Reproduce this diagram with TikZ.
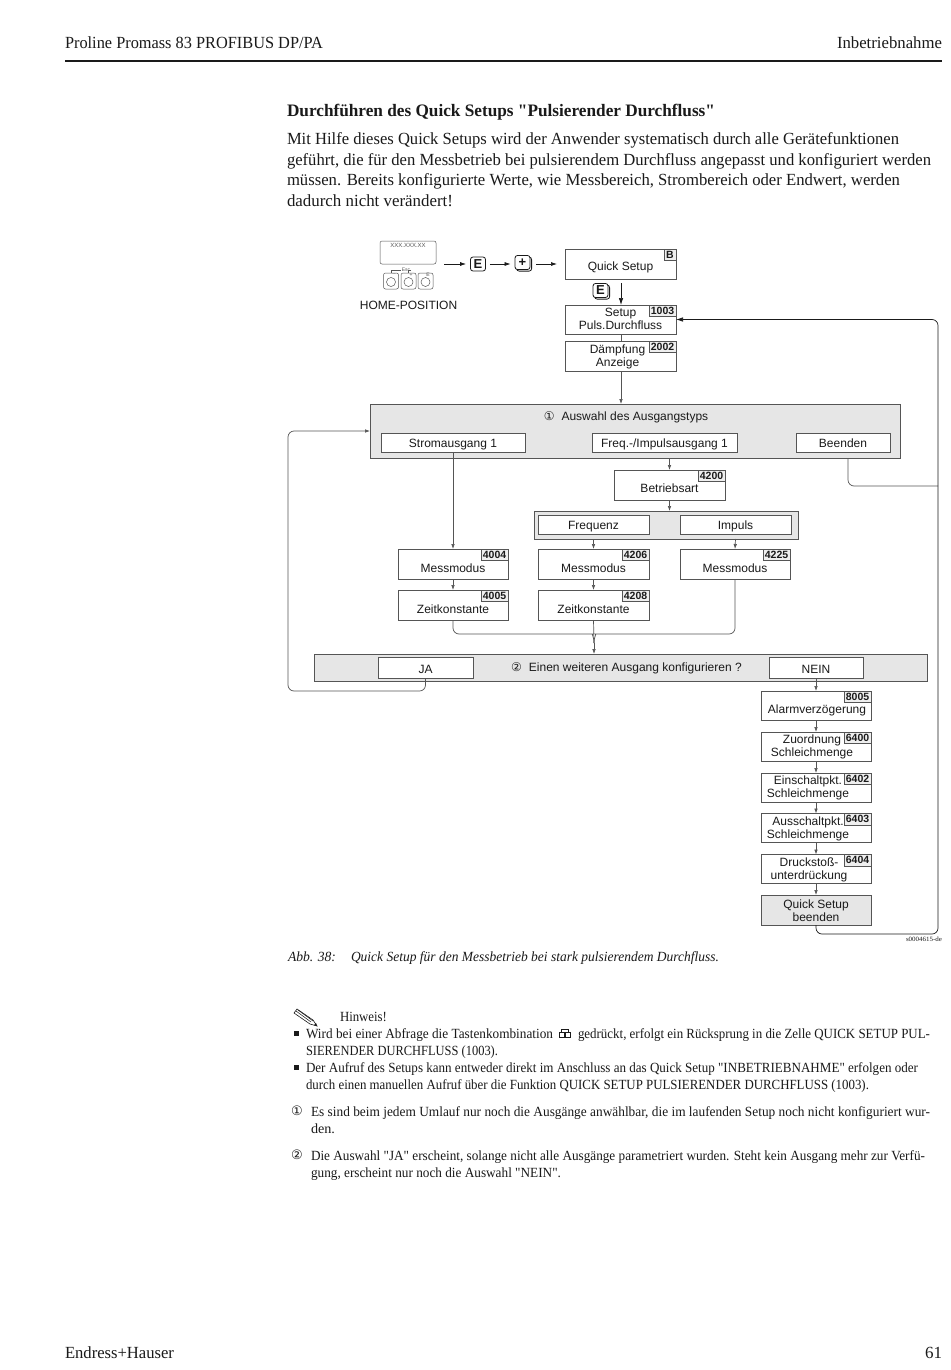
\documentclass[tikz,border=0pt]{standalone}
\usepackage{fontspec}
\usepackage{graphicx}
\setmainfont[Ligatures=TeXOff]{Liberation Serif}
\newfontfamily\diaf{Liberation Sans}
\newfontfamily\symf{DejaVu Sans}
\usetikzlibrary{arrows.meta,shadows}
\definecolor{ln}{HTML}{555555}
\definecolor{panelgray}{HTML}{E6E6E6}
\definecolor{taggray}{HTML}{EFEFEF}
\definecolor{ink}{HTML}{1A1A1A}
\newcommand{\bodyf}{\fontsize{17}{18}\selectfont}
\newcommand{\notef}{\fontsize{14}{15}\selectfont}
\newcommand{\bt}[3]{\raisebox{\dimexpr-#2pt-5pt\relax}[0pt][0pt]{\makebox[0pt][c]{\hspace*{\dimexpr 2\dimexpr#1pt\relax\relax}\setlength{\tabcolsep}{0pt}\renewcommand{\arraystretch}{0.96}\begin{tabular}{c}#3\end{tabular}}}}
\newcommand{\tline}[6]{\node[txt,font=#5,anchor=base west,yshift=-1pt] (#1) at (#2,#3) {\resizebox{#4pt}{\height}{#6}};}
\newcommand{\bx}[7][]{\node[box,#1,minimum width=#4pt,minimum height=#5pt] (#2) at (#3) {\bt#6{#7}};}
\newcommand{\tagb}[3]{\node[tagbox,anchor=north east] (#1) at (#2.north east) {#3};}
\tikzset{
  x=1pt,y=-1pt,
  txt/.style={inner sep=0pt,outer sep=0pt,text=ink},
  box/.style={draw=ln,line width=0.7pt,fill=white,inner sep=0pt,outer sep=0pt,font=\diaf\fontsize{12}{13.5}\selectfont,text=ink},
  panel/.style={draw=ln,line width=0.7pt,fill=panelgray,inner sep=0pt,outer sep=0pt},
  tagbox/.style={draw=ln,line width=0.6pt,fill=taggray,inner sep=0pt,outer sep=0pt,minimum width=27pt,minimum height=11.5pt,font=\diaf\bfseries\fontsize{10.5}{11}\selectfont,text=ink},
  dlabel/.style={inner sep=0pt,outer sep=0pt,font=\diaf\fontsize{12}{13.5}\selectfont,text=ink},
  conn/.style={draw=ln,line width=0.7pt,rounded corners=6pt},
  arr/.style={conn,-{Latex[length=5pt,width=3.6pt]}},
  keyarr/.style={draw=ink,line width=0.7pt,-{Latex[length=6pt,width=4pt]}},
  bigarr/.style={draw=ink,line width=0.7pt,-{Latex[length=7pt,width=4.5pt]}},
  keyb/.style={draw=ink,line width=0.8pt,rounded corners=2.5pt,fill=white,inner sep=0pt,minimum width=15pt,minimum height=14pt,font=\diaf\bfseries\fontsize{13}{13}\selectfont,text=ink},
  keys/.style={keyb,copy shadow={shadow xshift=1.6pt,shadow yshift=-1.6pt,draw=ink,fill=white,opacity=1}},
  hw/.style={draw=ln,line width=0.5pt,rounded corners=2pt,fill=white,inner sep=0pt,outer sep=0pt},
  tiny/.style={inner sep=0pt,outer sep=0pt,font=\diaf\fontsize{5}{5}\selectfont,text=ln},
}
\begin{document}
\begin{tikzpicture}
\useasboundingbox (0,0) rectangle (950,1370);
\fill[white] (0,0) rectangle (950,1370);

% page header and footer
\tline{hl}{65}{47.5}{258}{\bodyf}{Proline Promass 83 PROFIBUS DP/PA}
\tline{hr}{837}{47.5}{105}{\bodyf}{Inbetriebnahme}
\draw[ink,line width=1.3pt] (65,61) -- (942,61);
\tline{fl}{65}{1357.5}{109}{\bodyf}{Endress+Hauser}
\tline{fr}{925}{1357.5}{17}{\bodyf}{61}

% heading and intro
\tline{title}{287}{115.5}{428}{\bfseries\fontsize{17.5}{18}\selectfont}{Durchführen des Quick Setups "Pulsierender Durchfluss"}
\tline{p1}{287}{143.5}{612}{\bodyf}{Mit Hilfe dieses Quick Setups wird der Anwender systematisch durch alle Gerätefunktionen}
\tline{p2}{287}{164}{644}{\bodyf}{geführt, die für den Messbetrieb bei pulsierendem Durchfluss angepasst und konfiguriert werden}
\tline{p3}{287}{184.5}{613}{\bodyf}{müssen. Bereits konfigurierte Werte, wie Messbereich, Strombereich oder Endwert, werden}
\tline{p4}{287}{205}{166}{\bodyf}{dadurch nicht verändert!}

% home position hardware
\node[hw,minimum width=56pt,minimum height=23pt] (disp) at (408,252.5) {};
\node[tiny,font=\diaf\fontsize{6}{6}\selectfont] (disptxt) at (408,245.5) {XXX.XXX.XX};
\node[hw,minimum width=15pt,minimum height=16pt] (b1) at (391,281) {};
\node[hw,minimum width=15pt,minimum height=16pt] (b2) at (408.5,281) {};
\node[hw,minimum width=15pt,minimum height=16pt] (b3) at (425.5,281) {};
\draw[ln,line width=0.5pt] (391,282) circle (4.5);
\draw[ln,line width=0.5pt] (408.5,282) circle (4.5);
\draw[ln,line width=0.5pt] (425.5,282) circle (4.5);
\draw[ln,line width=0.4pt] (391,273) -- (391,270.5) -- (401,270.5);
\draw[ln,line width=0.4pt] (411,270.5) -- (408.5,270.5) -- (408.5,273);
\node[tiny] (esc) at (406,270) {Esc};
\node[tiny] (kp) at (411,275) {+};
\node[tiny] (km) at (394,275) {--};
\node[tiny] (ke) at (428,275) {E};
\node[dlabel] (home) at (408.5,305) {HOME-POSITION};

\node[keyb] (e1) at (478,264) {E};
\node[keys] (plus) at (522.5,262.5) {+};
\node[keys] (e2) at (600.5,290.5) {E};

% upper flow boxes
\bx{qs}{620.5,264}{111}{30}{{0}{2}}{Quick Setup}
\node[tagbox,anchor=north east,minimum width=12pt] (qstag) at (qs.north east) {B};
\bx{setup}{620.5,319.5}{111}{29}{{0}{-1}}{Setup\\Puls.Durchfluss}
\tagb{setuptag}{setup}{1003}
\bx{daempf}{620.5,356}{111}{30}{{-3}{-1}}{Dämpfung\\Anzeige}
\tagb{daempftag}{daempf}{2002}

% panel 1
\node[panel,minimum width=530pt,minimum height=54pt] (p1box) at (635,431) {};
\node[dlabel] (p1txt) at (626,417.5) {{\symf\fontsize{12}{12}\selectfont ①}\hspace{7pt}Auswahl des Ausgangstyps};
\bx{strom}{453,442.5}{144}{19}{{0}{0.5}}{Stromausgang 1}
\bx{freq}{664.5,442.5}{145}{19}{{0}{0.5}}{Freq.-/Impulsausgang 1}
\bx{been}{843,442.5}{94}{19}{{0}{0.5}}{Beenden}

\bx{betr}{669.5,485}{111}{30}{{0}{3}}{Betriebsart}
\tagb{betrtag}{betr}{4200}

% Frequenz / Impuls panel
\node[panel,fill=panelgray,minimum width=264pt,minimum height=28pt] (fp) at (666,525) {};
\bx{frq}{593.5,524.5}{111}{19}{{0}{0.5}}{Frequenz}
\bx{imp}{735.5,524.5}{111}{19}{{0}{0.5}}{Impuls}

\bx{mm1}{453,564}{110}{30}{{0}{4}}{Messmodus}
\tagb{mm1tag}{mm1}{4004}
\bx{mm2}{593.5,564}{111}{30}{{0}{4}}{Messmodus}
\tagb{mm2tag}{mm2}{4206}
\bx{mm3}{735,564}{110}{30}{{0}{4}}{Messmodus}
\tagb{mm3tag}{mm3}{4225}
\bx{zk1}{453,605}{110}{30}{{0}{4}}{Zeitkonstante}
\tagb{zk1tag}{zk1}{4005}
\bx{zk2}{593.5,605}{111}{30}{{0}{4}}{Zeitkonstante}
\tagb{zk2tag}{zk2}{4208}

% panel 2
\node[panel,minimum width=613pt,minimum height=27pt] (p2box) at (620.5,667.5) {};
\node[dlabel] (p2txt) at (626.5,668) {{\symf\fontsize{12}{12}\selectfont ②}\hspace{7pt}Einen weiteren Ausgang konfigurieren ?};
\bx{ja}{425.5,668}{95}{21}{{0}{0.5}}{JA}
\bx{nein}{816,668}{94}{21}{{0}{0.5}}{NEIN}

% lower column
\bx{alarm}{816,705.5}{110}{29}{{1}{3.5}}{Alarmverzögerung}
\tagb{alarmtag}{alarm}{8005}
\bx{zuord}{816,746.5}{110}{29}{{-4}{-1}}{Zuordnung\\Schleichmenge}
\tagb{zuordtag}{zuord}{6400}
\bx{ein}{816,787.5}{110}{29}{{-8}{-1}}{Einschaltpkt.\\Schleichmenge}
\tagb{eintag}{ein}{6402}
\bx{aus}{816,828}{110}{29}{{-8}{-1}}{Ausschaltpkt.\\Schleichmenge}
\tagb{austag}{aus}{6403}
\bx{druck}{816,869}{110}{29}{{-7}{-1}}{Druckstoß-\\unterdrückung}
\tagb{drucktag}{druck}{6404}
\bx[fill=panelgray]{qsend}{816,910}{110}{30}{{0}{0}}{Quick Setup\\beenden}

% connector helper points
\coordinate (start) at (444,264);
\coordinate (plusend) at (557,264);
\coordinate (merge) at (594,643);
\coordinate (bd) at (848,458);
\coordinate (rt) at (938,486);
\coordinate (rb) at (938,934);

% connectors
\draw[keyarr,shorten >=4pt] (start) -- (e1.west);
\draw[keyarr,shorten <=4pt,shorten >=4pt] (e1.east) -- (e1.east -| plus.west);
\draw[keyarr,shorten <=6pt] (plus.east |- plusend) -- (plusend);
\draw[bigarr] ([xshift=0.5pt,yshift=-4pt]qs.south) -- ([xshift=0.5pt]setup.north);
\draw[conn] ([xshift=0.5pt]setup.south) -- ([xshift=0.5pt]daempf.north);
\draw[arr] ([xshift=0.5pt]daempf.south) -- ([xshift=0.5pt]daempf.south |- p1box.north);
\draw[arr] (betr.north |- p1box.south) -- (betr.north);
\draw[arr] (betr.south) -- (betr.south |- fp.north);
\draw[arr] (strom.south) -- (mm1.north);
\draw[arr] (frq.south |- fp.south) -- (mm2.north);
\draw[arr] (imp.south |- fp.south) -- (mm3.north);
\draw[arr] (mm1.south) -- (zk1.north);
\draw[arr] (mm2.south) -- (zk2.north);
\draw[conn] (zk1.south) |- (587,634) .. controls (591,634) and (594,636) .. (merge);
\draw[conn] (mm3.south) |- (601,634) .. controls (597,634) and (594,636) .. (merge);
\draw[conn] (zk2.south) -- (merge);
\draw[arr] (merge) -- (merge |- p2box.north);
\draw[arr] (ja.south) |- (288,691) |- (p1box.west);
\draw[arr] (nein.south) -- (alarm.north);
\draw[arr] (alarm.south) -- (zuord.north);
\draw[arr] (zuord.south) -- (ein.north);
\draw[arr] (ein.south) -- (aus.north);
\draw[arr] (aus.south) -- (druck.north);
\draw[arr] (druck.south) -- (qsend.north);
\draw[conn] (bd) |- (rt);
\draw[bigarr,rounded corners=6pt] (qsend.south) |- (rb) |- (setup.east);

\tline{fileid}{906}{940}{36}{\fontsize{6.5}{7}\selectfont}{s0004615-de}

% caption
\tline{capa}{288}{960.5}{48}{\itshape\fontsize{14}{15}\selectfont}{Abb. 38:}
\tline{capb}{351}{960.5}{368}{\itshape\fontsize{14}{15}\selectfont}{Quick Setup für den Messbetrieb bei stark pulsierendem Durchfluss.}

% note pencil
\draw[ink,line width=0.6pt,fill=white] (294,1013) -- (297,1009) -- (313,1020) -- (317,1026) -- (310,1024) -- cycle;
\draw[ink,line width=0.5pt] (296,1011) -- (311,1022) (298,1010) -- (313,1021);
\fill[ink] (317,1026) -- (314,1025) -- (316,1023) -- cycle;

\tline{hin}{340}{1020}{47}{\notef}{Hinweis!}
\fill[ink] (293.5,1030.5) rectangle (298.5,1035.5);
\tline{n1a}{306}{1037.5}{247}{\notef}{Wird bei einer Abfrage die Tastenkombination}
\draw[ink,line width=0.4pt] (559,1032) rectangle (564,1037) (565,1032) rectangle (570,1037) (561,1029) rectangle (568,1032);
\tline{n1b}{578}{1037.5}{352}{\notef}{gedrückt, erfolgt ein Rücksprung in die Zelle QUICK SETUP PUL-}
\tline{n1c}{306}{1054.5}{192}{\notef}{SIERENDER DURCHFLUSS (1003).}
\fill[ink] (293.5,1064.5) rectangle (298.5,1069.5);
\tline{n2a}{306}{1071.5}{612}{\notef}{Der Aufruf des Setups kann entweder direkt im Anschluss an das Quick Setup "INBETRIEBNAHME" erfolgen oder}
\tline{n2b}{306}{1088.5}{563}{\notef}{durch einen manuellen Aufruf über die Funktion QUICK SETUP PULSIERENDER DURCHFLUSS (1003).}
\node[txt,font=\symf\fontsize{13}{13}\selectfont] (c1) at (297,1111) {①};
\tline{n3a}{311}{1115.5}{619}{\notef}{Es sind beim jedem Umlauf nur noch die Ausgänge anwählbar, die im laufenden Setup noch nicht konfiguriert wur-}
\tline{n3b}{311}{1132.5}{24}{\notef}{den.}
\node[txt,font=\symf\fontsize{13}{13}\selectfont] (c2) at (297,1155) {②};
\tline{n4a}{311}{1159.5}{614}{\notef}{Die Auswahl "JA" erscheint, solange nicht alle Ausgänge parametriert wurden. Steht kein Ausgang mehr zur Verfü-}
\tline{n4b}{311}{1176.5}{250}{\notef}{gung, erscheint nur noch die Auswahl "NEIN".}
\end{tikzpicture}
\end{document}
